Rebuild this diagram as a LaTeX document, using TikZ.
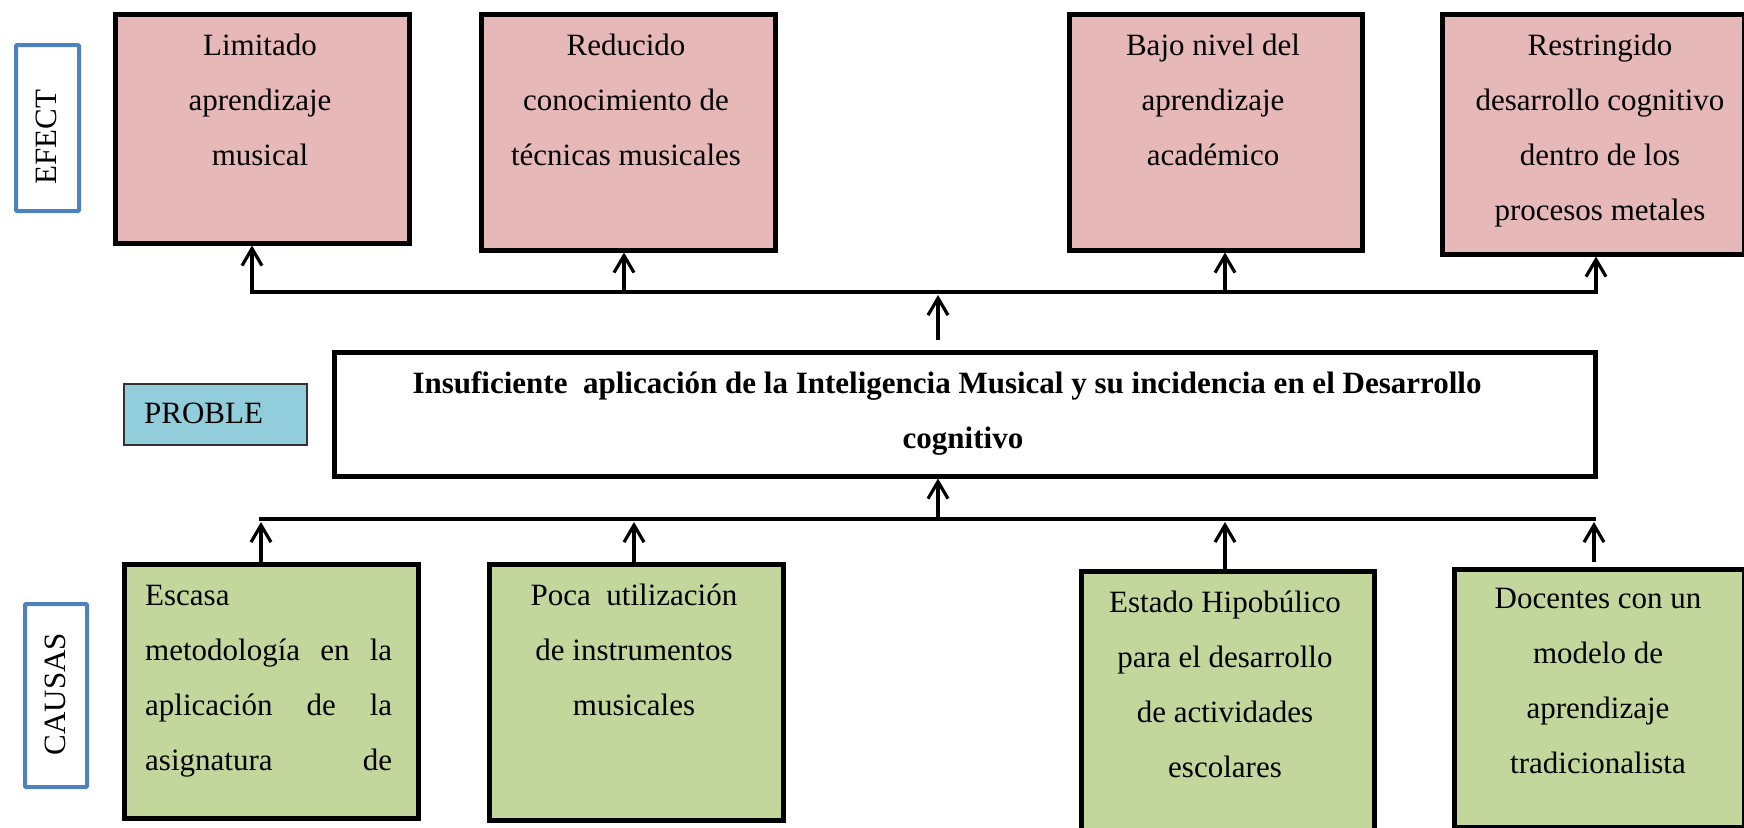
\documentclass[tikz,border=0pt]{standalone}
\usepackage{fontspec}
\setmainfont{Liberation Serif}
\usetikzlibrary{arrows.meta,calc}
\definecolor{effill}{HTML}{E6B8B7}
\definecolor{cafill}{HTML}{C3D69B}
\definecolor{prfill}{HTML}{92CDDC}
\definecolor{lblue}{HTML}{4F81BD}
\begin{document}
\begin{tikzpicture}[x=1pt,y=-1pt,
  box/.style={draw=black, line width=4.5pt, rectangle, inner sep=0pt, anchor=north west},
  efbox/.style={box, fill=effill},
  cabox/.style={box, fill=cafill},
  tfont/.style={font=\fontsize{31}{55}\selectfont},
  txt/.style={tfont, align=center, inner sep=0pt, anchor=north},
  side/.style={draw=lblue, line width=4pt, fill=white, inner sep=0pt, anchor=north west, rounded corners=1pt},
  link/.style={line width=3.2pt},
  arr/.style={link, -{Straight Barb[length=17pt,width=20pt]}}
]
\useasboundingbox (0,0) rectangle (1744,827);

% side labels
\node[side, minimum width=63pt, minimum height=166pt] (ef) at (14,43) {};
\node[tfont, rotate=90, inner sep=0pt] (eft) at (46,137) {EFECT};
\node[side, minimum width=62pt, minimum height=183pt] (ca) at (23,602) {};
\node[tfont, rotate=90, inner sep=0pt] (cat) at (55,694) {CAUSAS};
\node[draw=black!80, line width=1.5pt, fill=prfill, minimum width=183pt, minimum height=61pt, anchor=north west, inner sep=0pt] (pb) at (123,383) {};
\node[tfont, anchor=base west, inner sep=0pt] (pbt) at (144,423) {PROBLE};

% effect boxes
\node[efbox, minimum width=294pt, minimum height=229pt] (e1) at (113,12) {};
\node[efbox, minimum width=294pt, minimum height=236pt] (e2) at (479,12) {};
\node[efbox, minimum width=293pt, minimum height=236pt] (e3) at (1067,12) {};
\node[efbox, minimum width=302pt, minimum height=240pt] (e4) at (1440,12) {};
\node[txt] (e1t) at (260,16.5) {\strut Limitado\\aprendizaje\\musical};
\node[txt] (e2t) at (626,16.5) {\strut Reducido\\conocimiento de\\técnicas musicales};
\node[txt] (e3t) at (1213,16.5) {\strut Bajo nivel del\\aprendizaje\\académico};
\node[txt] (e4t) at (1600,16.5) {\strut Restringido\\desarrollo cognitivo\\dentro de los\\procesos metales};

% problem
\node[box, fill=white, minimum width=1261pt, minimum height=124pt] (prob) at (332,350) {};
\node[txt, font=\bfseries\fontsize{31}{55}\selectfont] (probt) at (963,354.5) {\strut Insuficiente\ \ aplicación de la Inteligencia Musical y su incidencia en el Desarrollo\hspace*{32pt}\\cognitivo};

% cause boxes
\node[cabox, minimum width=294pt, minimum height=254pt] (c1) at (122,562) {};
\node[cabox, minimum width=294pt, minimum height=256pt] (c2) at (487,562) {};
\node[cabox, minimum width=293pt, minimum height=275pt] (c3) at (1079,569) {};
\node[cabox, minimum width=290pt, minimum height=258pt] (c4) at (1452,567) {};
\node[tfont, align=left, inner sep=0pt, anchor=north west] (c1t) at (145,566.5)
  {\strut\makebox[247pt][l]{Escasa}\\\makebox[247pt][l]{metodología\hfill en\hfill la}\\\makebox[247pt][l]{aplicación\hfill de\hfill la}\\\makebox[247pt][l]{asignatura\hfill de}};
\node[txt] (c2t) at (634,566.5) {\strut Poca\ \ utilización\\de instrumentos\\musicales};
\node[txt] (c3t) at (1225,573.5) {\strut Estado Hipobúlico\\para el desarrollo\\de actividades\\escolares};
\node[txt] (c4t) at (1598,569.5) {\strut Docentes con un\\modelo de\\aprendizaje\\tradicionalista};

% top bus
\coordinate (b1) at (252,292);
\coordinate (b2) at (624,292);
\coordinate (bm) at (938,292);
\coordinate (b3) at (1225,292);
\coordinate (b4) at (1596,292);
\draw[link, line cap=rect] (b1) -- (b4);
\draw[arr] (b1) -- (b1 |- e1.south);
\draw[arr] (b2) -- (b2 |- e2.south);
\draw[arr] (b3) -- (b3 |- e3.south);
\draw[arr] (b4) -- (b4 |- e4.south);
\draw[arr] ($(prob.north -| bm)+(0,-10)$) -- ($(bm)+(0,3)$);

% bottom bus
\coordinate (d1) at (261,519);
\coordinate (d2) at (634,519);
\coordinate (dm) at (938,519);
\coordinate (d3) at (1225,519);
\coordinate (d4) at (1594,519);
\draw[link, line cap=rect] (d1) -- (d4);
\draw[arr] (dm) -- (dm |- prob.south);
\draw[arr] (d1 |- c1.north) -- ($(d1)+(0,3)$);
\draw[arr] (d2 |- c2.north) -- ($(d2)+(0,3)$);
\draw[arr] (d3 |- c3.north) -- ($(d3)+(0,3)$);
\draw[arr] ($(d4 |- c4.north)+(0,-5)$) -- ($(d4)+(0,3)$);
\end{tikzpicture}
\end{document}
